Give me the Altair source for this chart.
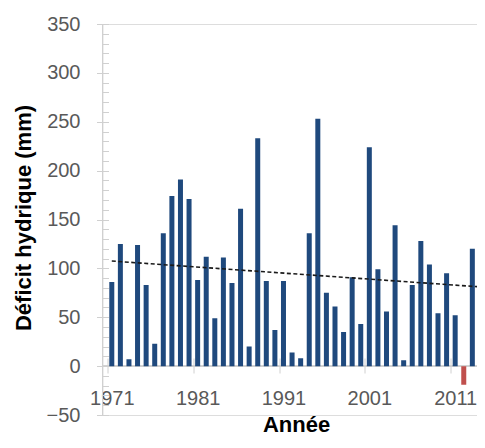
import altair as alt
import pandas as pd

years = list(range(1971, 2015))
deficit = [86, 125, 7, 124, 83, 23, 136, 174, 191, 171,
           88, 112, 49, 111, 85, 161, 20, 233, 87, 37,
           87, 14, 8, 136, 253, 75, 61, 35, 91, 43,
           224, 99, 56, 144, 6, 83, 128, 104, 54, 95,
           52, -19, 120, 128]

trend_years = [1971, 2014]
trend_values = [107.5, 81.0]

x_label_years = [1971, 1981, 1991, 2001, 2011]
y_tick_values = list(range(-50, 351, 10))

df = pd.DataFrame({"year": years, "value": deficit})
trend_df = pd.DataFrame({"year": trend_years, "value": trend_values})

FONT = "Liberation Sans"
AXIS_GREY = "#d0d0d0"
LABEL_GREY = "#595959"
STEP = 8.82
PLOT_W = 374.5

xscale = alt.Scale(domain=[1970.5, 1970.5 + PLOT_W / STEP], nice=False, zero=False)
yscale = alt.Scale(domain=[-50, 350], nice=False, zero=False)

x_axis = alt.Axis(values=x_label_years, format="d", title="Année",
                  domain=False, grid=False, offset=-57,
                  tickSize=15, tickColor=AXIS_GREY, tickWidth=1,
                  tickOffset=-STEP / 2, labelOffset=STEP / 2,
                  labelFlush=False, labelPadding=15,
                  labelFont=FONT, labelFontSize=20, labelColor=LABEL_GREY,
                  titleFont=FONT, titleFontSize=22, titleFontWeight="bold",
                  titleColor="#000000", titleX=193.5, titleY=73,
                  titleBaseline="alphabetic", titleAlign="center")

y_axis = alt.Axis(values=y_tick_values, domain=False, grid=False, offset=-6,
                  tickSize={"condition": {"test": "datum.value % 50 === 0", "value": 12}, "value": 6},
                  tickColor=AXIS_GREY, tickWidth=1,
                  labelExpr="datum.value % 50 === 0 ? datum.label : ''",
                  labelPadding=16.5, labelFont=FONT, labelFontSize=20,
                  labelColor=LABEL_GREY,
                  title="Déficit hydrique (mm)", titleFont=FONT, titleFontSize=22,
                  titleFontWeight="bold", titleColor="#000000",
                  titleX=-85.5, titleY=193.5, titleAngle=-90,
                  titleBaseline="middle", titleAlign="center")

bars = alt.Chart(df).mark_bar(size=5, clip=True).encode(
    x=alt.X("year:Q", scale=xscale, axis=x_axis),
    y=alt.Y("value:Q", scale=yscale, axis=y_axis),
    color=alt.condition(alt.datum.value < 0, alt.value("#c0504d"), alt.value("#1f497d")),
)

trend = alt.Chart(trend_df).mark_line(color="#1a1a1a", strokeWidth=1.6,
                                      strokeDash=[4, 2.5], clip=True).encode(
    x=alt.X("year:Q", scale=xscale, axis=x_axis),
    y=alt.Y("value:Q", scale=yscale, axis=y_axis),
)

y_line = alt.Chart(df).mark_rule(color=AXIS_GREY, strokeWidth=1).encode(
    x=alt.value(0)
)
x_line = alt.Chart(df).mark_rule(color=AXIS_GREY, strokeWidth=1).encode(
    y=alt.Y(datum=0, scale=yscale, axis=y_axis)
)

chart = alt.layer(x_line, y_line, bars, trend).properties(
    width=PLOT_W, height=391,
    padding={"left": 94.5, "top": 16, "right": 0, "bottom": 23},
    autosize=alt.AutoSizeParams(type="none"),
).configure_view(stroke=None).configure(background="white")

chart.save("out.html", embed_options={"renderer": "svg", "actions": False})
